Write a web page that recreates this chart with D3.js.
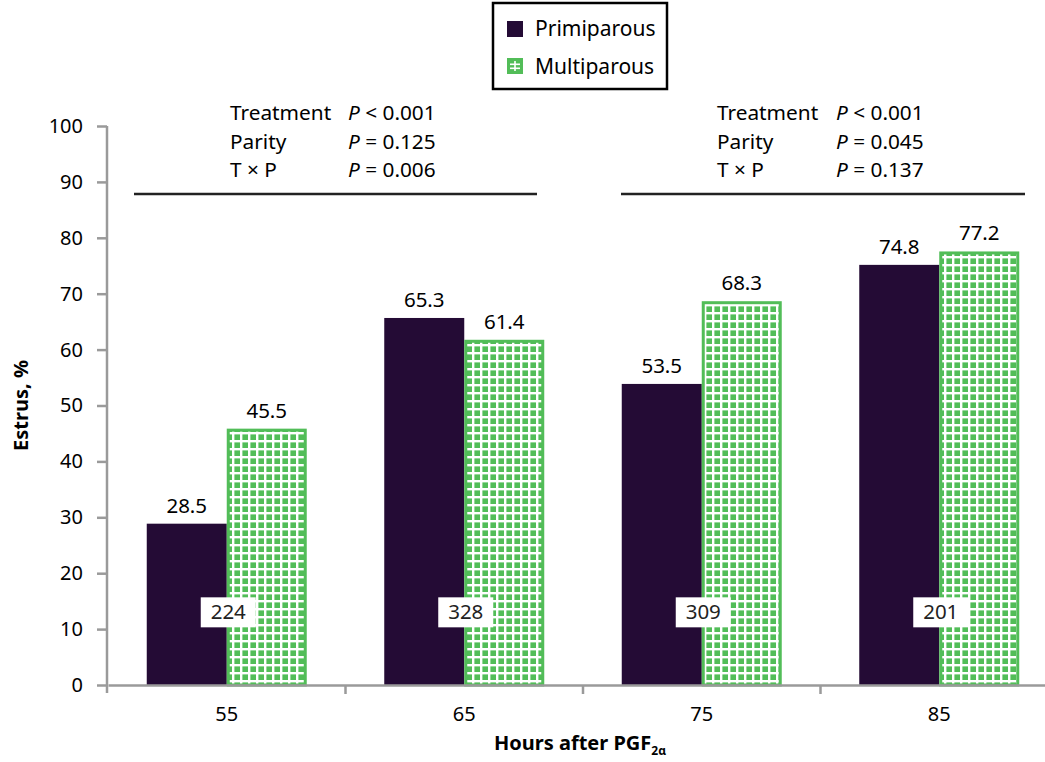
<!DOCTYPE html>
<html>
<head>
<meta charset="utf-8">
<script src="https://cdn.jsdelivr.net/npm/d3@7"></script>
<style>
  body { margin: 0; background: #fff; }
  svg { font-family: "Noto Sans", "Open Sans", sans-serif; }
</style>
</head>
<body>
<div class="chart"></div>
<script>
// data
const hours = ['55', '65', '75', '85']
const primiparous = [28.5, 65.3, 53.5, 74.8]
const multiparous = [45.5, 61.4, 68.3, 77.2]
const counts = ['224', '328', '309', '201']
const yTicks = [0, 10, 20, 30, 40, 50, 60, 70, 80, 90, 100]
const statsLeft = [['Treatment', '< 0.001'], ['Parity', '= 0.125'], ['T \u00d7 P', '= 0.006']]
const statsRight = [['Treatment', '< 0.001'], ['Parity', '= 0.045'], ['T \u00d7 P', '= 0.137']]

const width = 1045
const height = 762
const dark = '#240b35'
const green = '#52bd58'
const axisGrey = '#9a9a9a'

const svg = d3.select('.chart')
  .append('svg')
  .attr('width', width)
  .attr('height', height)

// checkered fill for multiparous bars
const defs = svg.append('defs')
const pat = defs.append('pattern')
  .attr('id', 'grid')
  .attr('patternUnits', 'userSpaceOnUse')
  .attr('width', 8)
  .attr('height', 8)
pat.append('rect').attr('width', 8).attr('height', 8).attr('fill', '#fff')
pat.append('rect').attr('x', 2.4).attr('y', 2.4).attr('width', 5.6).attr('height', 5.6).attr('fill', green)

const x = d3.scaleBand()
  .domain(hours)
  .range([108, 1058])

const y = d3.scaleLinear()
  .domain([0, 100])
  .range([685, 126])

const barW = 80

// bars
const groups = svg.selectAll('g.grp')
  .data(hours)
  .enter()
  .append('g')
  .attr('class', 'grp')

groups.append('rect')
  .attr('x', d => x(d) + x.bandwidth() / 2 - barW)
  .attr('y', (d, i) => y(primiparous[i]) - 2)
  .attr('width', barW)
  .attr('height', (d, i) => y(0) - y(primiparous[i]) + 2)
  .attr('fill', dark)

groups.append('rect')
  .attr('x', d => x(d) + x.bandwidth() / 2 + 1.5)
  .attr('y', (d, i) => y(multiparous[i]) - 0.5)
  .attr('width', barW - 3)
  .attr('height', (d, i) => y(0) - y(multiparous[i]) + 0.5)
  .attr('fill', 'url(#grid)')
  .attr('stroke', green)
  .attr('stroke-width', 3)

// value labels
groups.append('text')
  .attr('x', d => x(d) + x.bandwidth() / 2 - barW / 2)
  .attr('y', (d, i) => y(primiparous[i]) - 13)
  .attr('text-anchor', 'middle')
  .attr('font-size', 20.5)
  .text((d, i) => primiparous[i].toFixed(1))

groups.append('text')
  .attr('x', d => x(d) + x.bandwidth() / 2 + barW / 2)
  .attr('y', (d, i) => y(multiparous[i]) - 13)
  .attr('text-anchor', 'middle')
  .attr('font-size', 20.5)
  .text((d, i) => multiparous[i].toFixed(1))

// counts in white boxes
groups.append('rect')
  .attr('x', d => x(d) + x.bandwidth() / 2 - 26)
  .attr('y', y(13) - 15)
  .attr('width', 55)
  .attr('height', 30)
  .attr('fill', '#fff')

groups.append('text')
  .attr('x', d => x(d) + x.bandwidth() / 2 + 1.5)
  .attr('y', y(13) + 7)
  .attr('text-anchor', 'middle')
  .attr('font-size', 20.5)
  .attr('fill', '#222')
  .text((d, i) => counts[i])

// axes
const yAxis = d3.axisLeft(y).tickValues(yTicks).tickSize(10).tickPadding(14)
const gy = svg.append('g').attr('transform', 'translate(107,0)').call(yAxis)
gy.select('.domain').attr('stroke', axisGrey).attr('stroke-width', 2.5).attr('d', 'M0,126V693')
gy.selectAll('.tick line').attr('stroke', axisGrey).attr('stroke-width', 2.5)
gy.selectAll('.tick text').attr('font-size', 20).attr('fill', '#000').attr('font-family', '"Noto Sans", sans-serif')

const xAxis = d3.axisBottom(x).tickSize(0).tickPadding(22)
const gx = svg.append('g').attr('transform', 'translate(0,685)').call(xAxis)
gx.select('.domain').attr('stroke', axisGrey).attr('stroke-width', 2.5)
gx.selectAll('.tick text').attr('font-size', 20).attr('fill', '#000').attr('font-family', '"Noto Sans", sans-serif')
gx.selectAll('line.sep')
  .data(hours.slice(1))
  .enter()
  .append('line')
  .attr('class', 'sep')
  .attr('x1', d => x(d)).attr('x2', d => x(d))
  .attr('y1', 0).attr('y2', 9)
  .attr('stroke', axisGrey)
  .attr('stroke-width', 2.5)

// axis titles
svg.append('text')
  .attr('transform', 'translate(28,' + y(50) + ') rotate(-90)')
  .attr('text-anchor', 'middle')
  .attr('font-size', 20)
  .attr('font-weight', 'bold')
  .text('Estrus, %')

const xt = svg.append('text')
  .attr('x', 580)
  .attr('y', 750)
  .attr('text-anchor', 'middle')
  .attr('font-size', 20)
  .attr('font-weight', 'bold')
xt.append('tspan').text('Hours after PGF')
xt.append('tspan').attr('font-size', 12).attr('dy', 5).text('2\u03b1')

// stats blocks
function statBlock(rows, x0, x1, lineFrom, lineTo) {
  const g = svg.append('g')
  rows.forEach((r, i) => {
    g.append('text').attr('x', x0).attr('y', 120 + i * 28.5).attr('font-size', 20.8).text(r[0])
    const t = g.append('text').attr('x', x1).attr('y', 120 + i * 28.5).attr('font-size', 20.8)
    t.append('tspan').attr('font-style', 'italic').text('P')
    t.append('tspan').text(' ' + r[1])
  })
  g.append('line')
    .attr('x1', lineFrom).attr('x2', lineTo)
    .attr('y1', 194).attr('y2', 194)
    .attr('stroke', '#222').attr('stroke-width', 2.5)
}
statBlock(statsLeft, 230, 348, 134, 537)
statBlock(statsRight, 717, 836, 621, 1025)

// legend
const leg = svg.append('g')
leg.append('rect')
  .attr('x', 493).attr('y', 3).attr('width', 174).attr('height', 86)
  .attr('fill', '#fff').attr('stroke', '#000').attr('stroke-width', 2.5)
leg.append('rect').attr('x', 507).attr('y', 21).attr('width', 16).attr('height', 16).attr('fill', dark)
leg.append('rect').attr('x', 507).attr('y', 58).attr('width', 16).attr('height', 16).attr('fill', green)
leg.append('rect').attr('x', 510).attr('y', 63.5).attr('width', 10).attr('height', 1.6).attr('fill', '#fff')
leg.append('rect').attr('x', 510).attr('y', 67.5).attr('width', 10).attr('height', 1.6).attr('fill', '#fff')
leg.append('rect').attr('x', 514.2).attr('y', 61).attr('width', 1.6).attr('height', 10).attr('fill', '#fff')
leg.append('text').attr('x', 535).attr('y', 36).attr('font-size', 21).text('Primiparous')
leg.append('text').attr('x', 535).attr('y', 74).attr('font-size', 21).text('Multiparous')
</script>
</body>
</html>
